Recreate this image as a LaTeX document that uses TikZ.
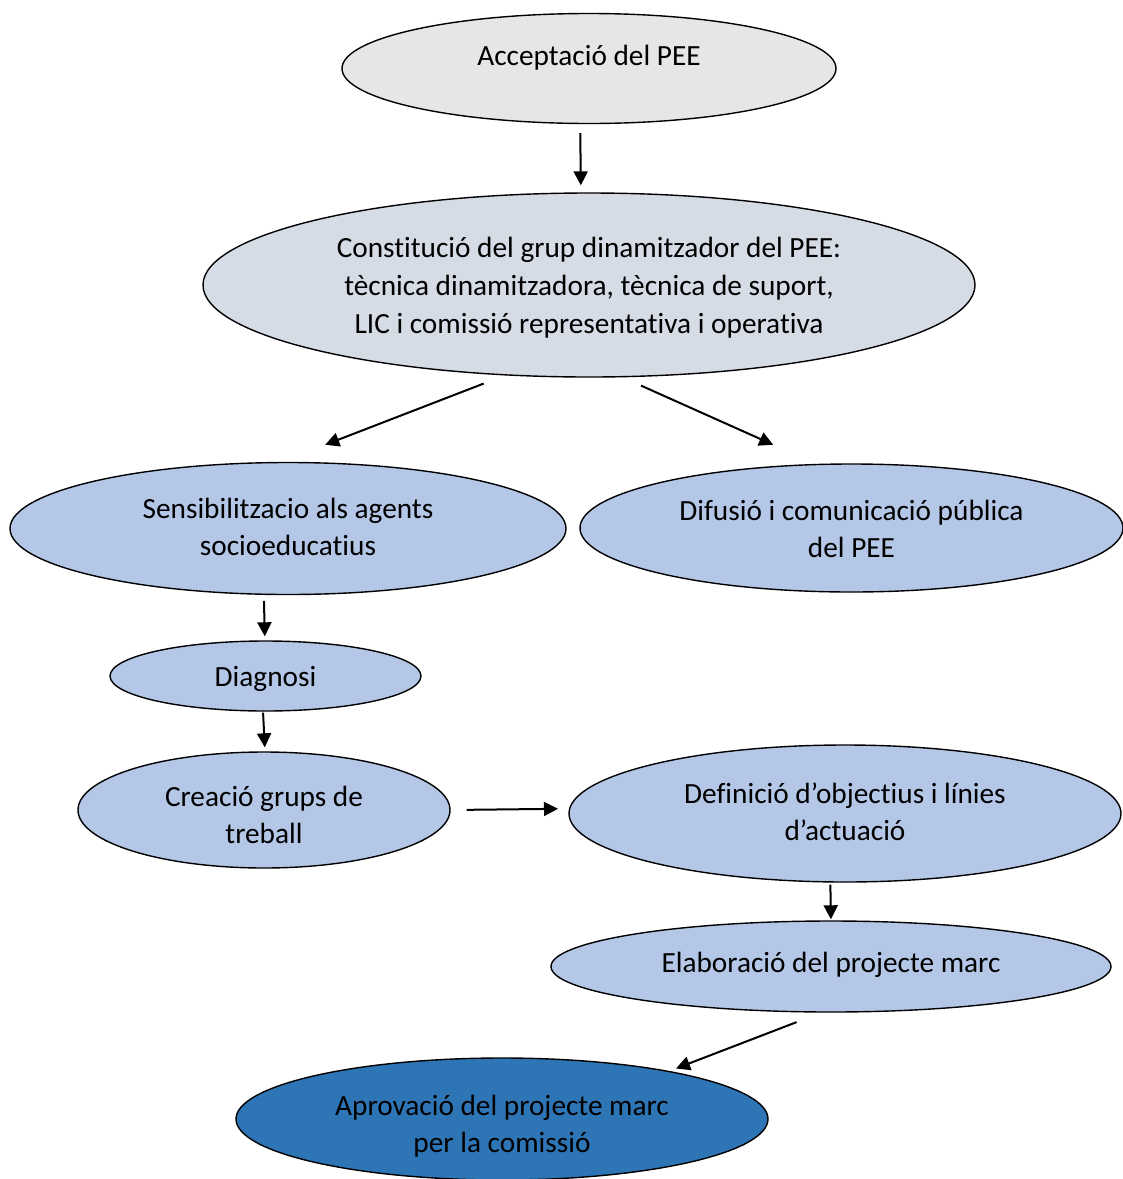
\documentclass[tikz,border=0pt]{standalone}
\usepackage{fontspec}
\setmainfont{Carlito}[Ligatures=NoCommon]
\usepackage{tikz}
\usetikzlibrary{shapes.geometric, arrows.meta}
\definecolor{grisclar}{HTML}{E7E6E6}
\definecolor{blaugris}{HTML}{D6DCE5}
\definecolor{blauclar}{HTML}{B4C7E7}
\definecolor{blaufosc}{HTML}{2E75B6}

\begin{document}
\begin{tikzpicture}[
    x=0.5pt, y=-0.5pt,
    every node/.style={font=\fontsize{14.65}{18.5}\selectfont},
    etapa/.style={ellipse, draw, line width=0.7pt, inner sep=0pt, align=center, fill=blauclar},
    linia/.style={text height=#1, text depth=3pt},
    fletxa/.style={-{Triangle[length=7pt, width=7pt]}, line width=1pt}
]
\useasboundingbox (0,0) rectangle (1123,1179);
\clip (0,0) rectangle (1123,1179);
% Inici del PEE
\node[etapa, fill=grisclar, linia=6.8pt, text depth=10pt, minimum width=247pt, minimum height=55pt] (accept) at (589,68.5) {Acceptació del PEE};
\node[etapa, fill=blaugris, linia=51.2pt, font=\fontsize{14.65}{19}\selectfont, minimum width=386pt, minimum height=92pt] (const) at (589,285) {Constitució del grup dinamitzador del PEE:\\ tècnica dinamitzadora, tècnica de suport,\\ LIC i comissió representativa i operativa};
% Dues branques
\node[etapa, linia=30.2pt, minimum width=278pt, minimum height=66pt] (sens) at (288,528.5) {Sensibilitzacio als agents\\ socioeducatius};
\node[etapa, linia=32pt, minimum width=271.5pt, minimum height=64pt] (difus) at (851.5,528) {Difusió i comunicació pública\\ del PEE};
% Treball
\node[etapa, linia=13.7pt, minimum width=155.5pt, minimum height=35pt] (diag) at (265.5,676) {Diagnosi};
\node[etapa, linia=36pt, minimum width=186pt, minimum height=58pt] (creacio) at (264,810) {Creació grups de\\ treball};
\node[etapa, linia=29.5pt, minimum width=276pt, minimum height=68.5pt] (defin) at (845,813.5) {Definició d’objectius i línies\\ d’actuació};
\node[etapa, linia=8.5pt, minimum width=280pt, minimum height=45.5pt] (elab) at (831,966.5) {Elaboració del projecte marc};
% Aprovacio final
\node[etapa, fill=blaufosc, linia=36.3pt, minimum width=266pt, minimum height=61pt] (aprov) at (502,1119) {Aprovació del projecte marc\\ per la comissió};
% Fletxes
\draw[fletxa, shorten <=4.5pt, shorten >=3.5pt] (accept.261.7) -- (const.95);
\draw[fletxa, shorten <=11.2pt, shorten >=23.7pt] (const.227.7) -- (sens.96.3);
\draw[fletxa, shorten <=10.1pt, shorten >=23.4pt] (const.290.7) -- (difus.119.8);
\draw[fletxa, shorten <=3pt, shorten >=2pt] (sens.250) -- (diag.91.6);
\draw[fletxa, shorten <=0.5pt, shorten >=2pt] (diag.266.7) -- (creacio.89);
\draw[fletxa, shorten <=8pt, shorten >=5.5pt] (creacio.0.3) -- (defin.179.2);
\draw[fletxa, shorten <=1pt, shorten >=0.5pt] (defin.258.4) -- (elab.90);
\draw[fletxa, shorten <=13.2pt, shorten >=3.5pt] (elab.258.1) -- (aprov.16.5);
\end{tikzpicture}
\end{document}
